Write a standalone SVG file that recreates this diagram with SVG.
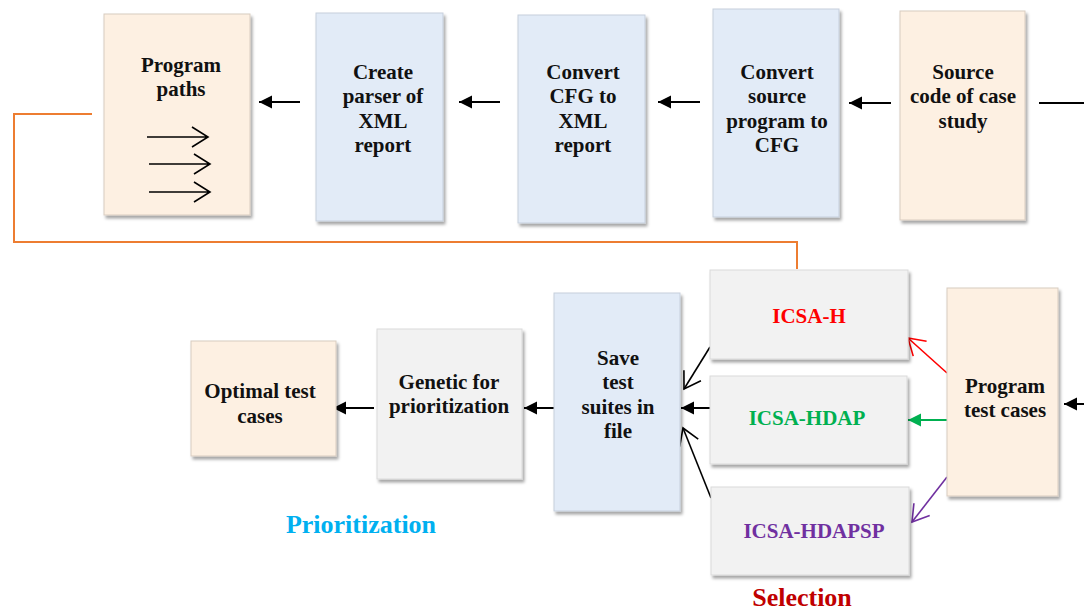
<svg xmlns="http://www.w3.org/2000/svg" width="1084" height="611" viewBox="0 0 1084 611">
  <style>
    .box { stroke-width: 1; filter: url(#shadow); }
    .cream { fill: #FDF0E2; stroke: #D8CCC0; }
    .blue { fill: #E2EBF7; stroke: #C6CFDC; }
    .gray { fill: #F2F2F2; stroke: #DADADA; }
    text { font-family: "Liberation Serif", "Times New Roman", serif; font-weight: bold; text-anchor: middle; }
    .lbl { font-size: 21px; fill: #111111; }
    .alg { font-size: 21px; }
    .phase { font-size: 26px; }
    .ln { fill: none; stroke: #000000; stroke-width: 2; }
    .thin { fill: none; stroke-width: 1.6; }
  </style>
  <defs>
    <filter id="shadow" x="-10%" y="-10%" width="130%" height="130%">
      <feDropShadow dx="2" dy="3" stdDeviation="1.8" flood-color="#000000" flood-opacity="0.35"/>
    </filter>
    <marker id="headBlack" markerUnits="userSpaceOnUse" markerWidth="14" markerHeight="14" refX="13" refY="6.5" orient="auto" viewBox="0 0 14 13">
      <path d="M0,0 L13,6.5 L0,13 Z" fill="#000000"/>
    </marker>
    <marker id="headGreen" markerUnits="userSpaceOnUse" markerWidth="14" markerHeight="14" refX="13" refY="6.5" orient="auto" viewBox="0 0 14 13">
      <path d="M0,0 L13,6.5 L0,13 Z" fill="#00B050"/>
    </marker>
    <marker id="openBlack" markerUnits="userSpaceOnUse" markerWidth="22" markerHeight="24" refX="19" refY="12" orient="auto" viewBox="0 0 22 24">
      <path d="M3,2 L19,12 L3,22" fill="none" stroke="#000000" stroke-width="1.6"/>
    </marker>
    <marker id="openRed" markerUnits="userSpaceOnUse" markerWidth="22" markerHeight="24" refX="19" refY="12" orient="auto" viewBox="0 0 22 24">
      <path d="M3,2 L19,12 L3,22" fill="none" stroke="#FF0000" stroke-width="1.6"/>
    </marker>
    <marker id="openPurple" markerUnits="userSpaceOnUse" markerWidth="22" markerHeight="24" refX="19" refY="12" orient="auto" viewBox="0 0 22 24">
      <path d="M3,2 L19,12 L3,22" fill="none" stroke="#7030A0" stroke-width="1.6"/>
    </marker>
  </defs>

  <rect width="1084" height="611" fill="#FFFFFF"/>

  <!-- connectors -->
  <g id="connectors">
    <!-- feedback loop from the path extraction back to the selection stage -->
    <polyline points="92,114 14,114 14,242 797,242 797,269" fill="none" stroke="#ED7D31" stroke-width="2"/>
    <!-- top row, flowing right to left -->
    <line class="ln" x1="1039" y1="103" x2="1084" y2="103"/>
    <line class="ln" x1="891" y1="103" x2="849" y2="103" marker-end="url(#headBlack)"/>
    <line class="ln" x1="700" y1="102" x2="658" y2="102" marker-end="url(#headBlack)"/>
    <line class="ln" x1="500" y1="102" x2="459" y2="102" marker-end="url(#headBlack)"/>
    <line class="ln" x1="300" y1="102" x2="259" y2="102" marker-end="url(#headBlack)"/>
    <!-- incoming to program test cases -->
    <line class="ln" x1="1084" y1="404" x2="1064" y2="404" marker-end="url(#headBlack)"/>
    <!-- program test cases to the three selection algorithms -->
    <line class="thin" stroke="#FF0000" x1="947" y1="373" x2="908" y2="338" marker-end="url(#openRed)"/>
    <line class="ln" style="stroke:#00B050" x1="947" y1="420" x2="908" y2="420" marker-end="url(#headGreen)"/>
    <line class="thin" stroke="#7030A0" x1="947" y1="477" x2="912" y2="522" marker-end="url(#openPurple)"/>
    <!-- selection algorithms to saved suites -->
    <line class="thin" stroke="#000000" x1="710" y1="347" x2="684" y2="389" marker-end="url(#openBlack)"/>
    <line class="ln" x1="710" y1="408" x2="681" y2="408" marker-end="url(#headBlack)"/>
    <line class="thin" stroke="#000000" x1="711" y1="498" x2="683" y2="428" marker-end="url(#openBlack)"/>
    <!-- prioritization chain -->
    <line class="ln" x1="554" y1="408" x2="524" y2="408" marker-end="url(#headBlack)"/>
    <line class="ln" x1="374" y1="408" x2="333" y2="408" marker-end="url(#headBlack)"/>
  </g>

  <!-- top row -->
  <g id="program-paths">
    <rect class="box cream" x="104" y="14" width="146" height="201"/>
    <text class="lbl" x="181" y="72">Program</text>
    <text class="lbl" x="181" y="96">paths</text>
    <path d="M147,137 L208,137 M192,127 L208,137 L192,147" fill="none" stroke="#000000" stroke-width="1.6"/>
    <path d="M149,164 L210,164 M194,154 L210,164 L194,174" fill="none" stroke="#000000" stroke-width="1.6"/>
    <path d="M149,192 L210,192 M194,182 L210,192 L194,202" fill="none" stroke="#000000" stroke-width="1.6"/>
  </g>

  <g id="create-parser">
    <rect class="box blue" x="316" y="13" width="127" height="208"/>
    <text class="lbl" x="383" y="79">Create</text>
    <text class="lbl" x="383" y="103">parser of</text>
    <text class="lbl" x="383" y="128">XML</text>
    <text class="lbl" x="383" y="152">report</text>
  </g>

  <g id="convert-cfg-xml">
    <rect class="box blue" x="518" y="15" width="127" height="208"/>
    <text class="lbl" x="583" y="79">Convert</text>
    <text class="lbl" x="583" y="103">CFG to</text>
    <text class="lbl" x="583" y="128">XML</text>
    <text class="lbl" x="583" y="152">report</text>
  </g>

  <g id="convert-source-cfg">
    <rect class="box blue" x="713" y="9" width="126" height="208"/>
    <text class="lbl" x="777" y="79">Convert</text>
    <text class="lbl" x="777" y="103">source</text>
    <text class="lbl" x="777" y="128">program to</text>
    <text class="lbl" x="777" y="152">CFG</text>
  </g>

  <g id="source-code">
    <rect class="box cream" x="900" y="11" width="125" height="209"/>
    <text class="lbl" x="963" y="79">Source</text>
    <text class="lbl" x="963" y="103">code of case</text>
    <text class="lbl" x="963" y="128">study</text>
  </g>

  <!-- selection stage -->
  <g id="icsa-h">
    <rect class="box gray" x="710" y="270" width="198" height="89"/>
    <text class="alg" x="809" y="323" fill="#FF0000">ICSA-H</text>
  </g>

  <g id="icsa-hdap">
    <rect class="box gray" x="710" y="376" width="197" height="88"/>
    <text class="alg" x="807" y="425" fill="#00B050">ICSA-HDAP</text>
  </g>

  <g id="icsa-hdapsp">
    <rect class="box gray" x="711" y="487" width="198" height="88"/>
    <text class="alg" x="814" y="538" fill="#7030A0">ICSA-HDAPSP</text>
  </g>

  <g id="program-test-cases">
    <rect class="box cream" x="947" y="288" width="111" height="208"/>
    <text class="lbl" x="1005" y="393">Program</text>
    <text class="lbl" x="1005" y="417">test cases</text>
  </g>

  <g id="selection-label">
    <text class="phase" x="802" y="606" fill="#C00000">Selection</text>
  </g>

  <!-- prioritization stage -->
  <g id="save-suites">
    <rect class="box blue" x="554" y="293" width="126" height="218"/>
    <text class="lbl" x="618" y="365">Save</text>
    <text class="lbl" x="618" y="389">test</text>
    <text class="lbl" x="618" y="414">suites in</text>
    <text class="lbl" x="618" y="438">file</text>
  </g>

  <g id="genetic">
    <rect class="box gray" x="377" y="329" width="145" height="150"/>
    <text class="lbl" x="449" y="389">Genetic for</text>
    <text class="lbl" x="449" y="413">prioritization</text>
  </g>

  <g id="optimal">
    <rect class="box cream" x="191" y="341" width="145" height="115"/>
    <text class="lbl" x="260" y="398">Optimal test</text>
    <text class="lbl" x="260" y="423">cases</text>
  </g>

  <g id="prioritization-label">
    <text class="phase" x="361" y="533" fill="#00B0F0">Prioritization</text>
  </g>
</svg>
